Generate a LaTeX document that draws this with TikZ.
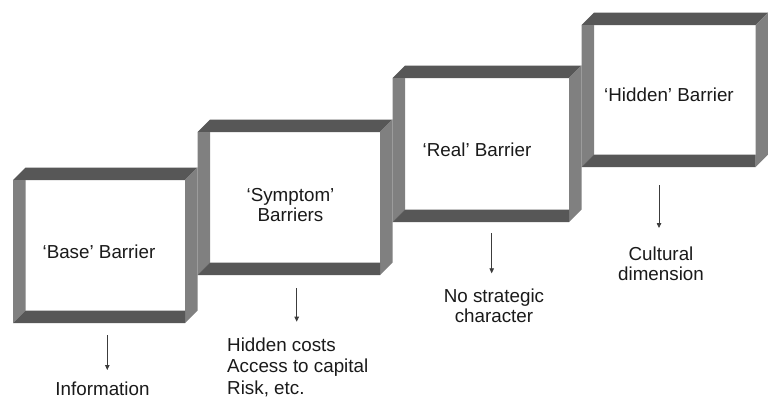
\documentclass[tikz,border=0pt]{standalone}
\usepackage{fontspec}
\setmainfont{Liberation Sans}
\usetikzlibrary{arrows.meta}

\definecolor{walldark}{HTML}{575757}
\definecolor{wallmid}{HTML}{808080}
\definecolor{ink}{HTML}{1A1A1A}

% Open tube seen from the front: x0, y0, x1, y1 of the front face, depth 12.5
\newcommand{\tubeframe}[5]{%
  \fill[walldark] (#2,#3) -- (#2+12.5,#3-12.5) -- (#4+12.5,#3-12.5) -- (#4,#3) -- cycle;
  \fill[wallmid]  (#4,#3) -- (#4+12.5,#3-12.5) -- (#4+12.5,#5-12.5) -- (#4,#5) -- cycle;
  \fill[wallmid]  (#2,#3) -- (#2+12.5,#3) -- (#2+12.5,#5-12.5) -- (#2,#5) -- cycle;
  \fill[walldark] (#2,#5) -- (#2+12.5,#5-12.5) -- (#4,#5-12.5) -- (#4,#5) -- cycle;
  \coordinate (#1) at ({(#2+12.5+#4)/2},{(#3+#5-12.5)/2});
}

\begin{document}
\begin{tikzpicture}[x=1pt,y=-1pt,
    lbl/.style={inner sep=0pt, text=ink, font=\fontsize{18.8}{20}\selectfont, align=center, anchor=base},
    arr/.style={draw=ink!85, line width=0.8pt, -{Triangle[length=5pt,width=4.5pt]}}]
  \useasboundingbox (0,0) rectangle (768,402);
  \fill[white] (0,0) rectangle (768,402);

  % the four barrier frames, rising to the right
  \tubeframe{f1}{13}{180}{185}{323}
  \tubeframe{f2}{197.5}{132}{380}{275}
  \tubeframe{f3}{392.5}{78}{569}{222}
  \tubeframe{f4}{581.5}{25}{755.5}{167}

  % titles inside the frames (multi-line nodes sit on their last baseline)
  \node[lbl] (base)    at (99,258)      {‘Base’ Barrier};
  \node[lbl] (symptom) at (290.5,221.7) {‘Symptom’\\Barriers};
  \node[lbl] (real)    at (477,156.5)   {‘Real’ Barrier};
  \node[lbl] (hidden)  at (669,101.5)   {‘Hidden’ Barrier};

  % notes under the frames
  \node[lbl] (info)  at (102.5,395) {Information};
  \node[lbl, align=left, anchor=base west, font=\fontsize{18.8}{21.5}\selectfont]
        (costs) at (227,394) {Hidden costs\\Access to capital\\Risk, etc.};
  \node[lbl, font=\fontsize{18.8}{19.5}\selectfont] (strat) at (494,322) {No strategic\\character};
  \node[lbl, font=\fontsize{18.8}{19.5}\selectfont] (cult)  at (661,280) {Cultural\\dimension};

  % arrows from frames to notes
  \coordinate (a1s) at (107.3,335);   \coordinate (a1e) at (107.3,370);
  \coordinate (a2s) at (296.7,288.3); \coordinate (a2e) at (296.7,321.7);
  \coordinate (a3s) at (491.7,233);   \coordinate (a3e) at (491.7,273.3);
  \coordinate (a4s) at (659,185);     \coordinate (a4e) at (659,228);
  \draw[arr] (a1s) -- (a1e);
  \draw[arr] (a2s) -- (a2e);
  \draw[arr] (a3s) -- (a3e);
  \draw[arr] (a4s) -- (a4e);
\end{tikzpicture}
\end{document}
